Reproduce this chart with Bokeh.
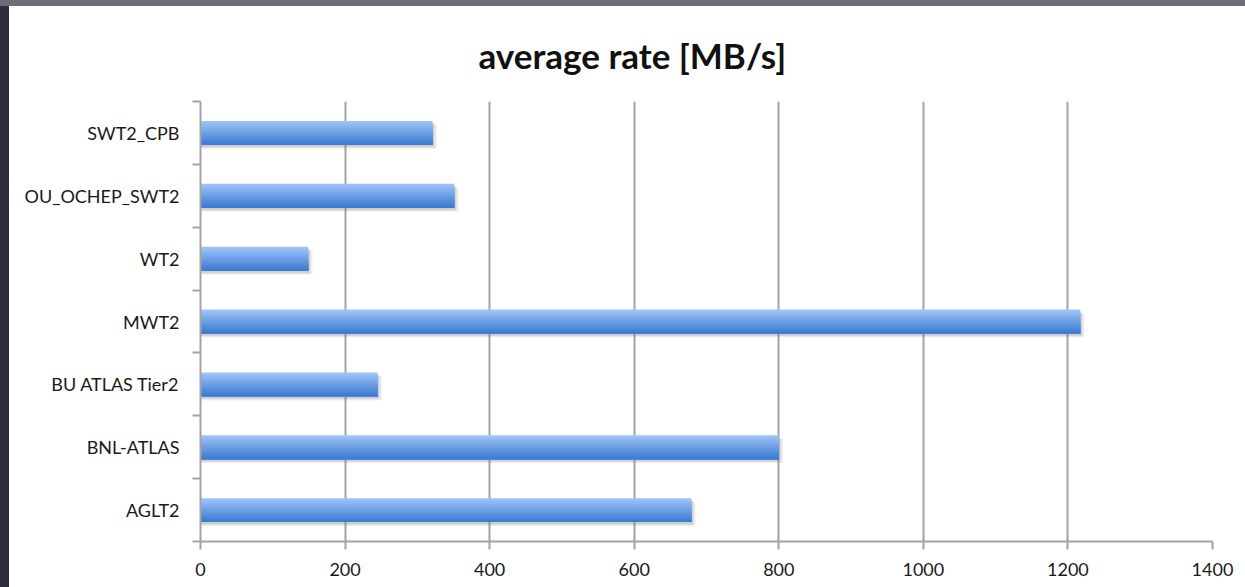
from bokeh.plotting import figure
from bokeh.models import FixedTicker, Range1d, Spacer, Title
from bokeh.layouts import column, row
from bokeh.embed import file_html
from bokeh.resources import INLINE

# data (top to bottom as shown)
categories = ["SWT2_CPB", "OU_OCHEP_SWT2", "WT2", "MWT2", "BU ATLAS Tier2", "BNL-ATLAS", "AGLT2"]
rates = [321, 351, 149, 1217, 245, 800, 679]
x_ticks = [0, 200, 400, 600, 800, 1000, 1200, 1400]

n = len(categories)
# bottom-up positions for a numeric category axis
ypos = [n - 1 - i + 0.5 for i in range(n)]

W, H = 1236, 581
p = figure(width=W, height=H, output_backend="svg", toolbar_location=None,
           x_range=Range1d(0, 1400), y_range=Range1d(0, n),
           min_border_left=191, min_border_right=33, min_border_top=95, min_border_bottom=46)
p.background_fill_color = "white"
p.border_fill_color = "white"
p.outline_line_color = None

title = Title(text="average rate [MB/s]", align="left", offset=278,
              text_font="Lato", text_font_size="35px", text_font_style="bold",
              text_color="#111111", standoff=51)
p.add_layout(title, "above")

# grid
p.xgrid.ticker = FixedTicker(ticks=x_ticks)
p.xgrid.grid_line_color = "#a3a3a3"
p.xgrid.grid_line_width = 2
p.ygrid.grid_line_color = None

# shadow
bh = 0.38
for dx, dy, a in [(6, -0.065, 0.10), (4, -0.05, 0.15), (2, -0.035, 0.2)]:
    p.hbar(y=[y + dy for y in ypos], left=0, right=[r + dx for r in rates], height=bh,
           fill_color="#808080", fill_alpha=a, line_color=None)

# gradient bars: nested layers, each covering from its top edge down to the bar bottom
top_c = (0x9e, 0xc3, 0xf8)
bot_c = (0x3c, 0x7b, 0xd0)
N = 16
for k in range(N):
    t = k / (N - 1)
    c = tuple(int(round(top_c[j] + (bot_c[j] - top_c[j]) * t)) for j in range(3))
    col = "#%02x%02x%02x" % c
    hk = bh * (N - k) / N
    off = -bh / 2 + hk / 2
    p.hbar(y=[y + off for y in ypos], left=0, right=rates, height=hk,
           fill_color=col, line_color=None)

# x axis
xa = p.xaxis[0]
xa.ticker = FixedTicker(ticks=x_ticks)
xa.axis_line_color = "#a3a3a3"
xa.axis_line_width = 2
xa.major_tick_line_color = "#a3a3a3"
xa.major_tick_line_width = 2
xa.major_tick_out = 8
xa.major_tick_in = 0
xa.minor_tick_line_color = None
xa.major_label_standoff = 13
xa.major_label_text_font = "Lato"
xa.major_label_text_font_size = "18px"
xa.major_label_text_color = "#1a1a1a"

# y axis
ya = p.yaxis[0]
ya.ticker = FixedTicker(ticks=ypos, minor_ticks=list(range(n + 1)))
ya.major_label_overrides = {y: c for y, c in zip(ypos, categories)}
ya.axis_line_color = "#a3a3a3"
ya.axis_line_width = 2
ya.major_tick_line_color = None
ya.major_tick_out = 0
ya.major_tick_in = 0
ya.minor_tick_line_color = "#a3a3a3"
ya.minor_tick_line_width = 2
ya.minor_tick_out = 8
ya.minor_tick_in = 0
ya.major_label_standoff = 13
ya.major_label_text_font = "Lato"
ya.major_label_text_font_size = "18px"
ya.major_label_text_color = "#1a1a1a"

top_strip = Spacer(width=1245, height=6, styles={"background-color": "#6e6e78"})
left_strip = Spacer(width=9, height=H, styles={"background-color": "#2e2e3c"})
layout = column(top_strip, row(left_strip, p, spacing=0), spacing=0)

open("out.html", "w").write(file_html(layout, INLINE))
